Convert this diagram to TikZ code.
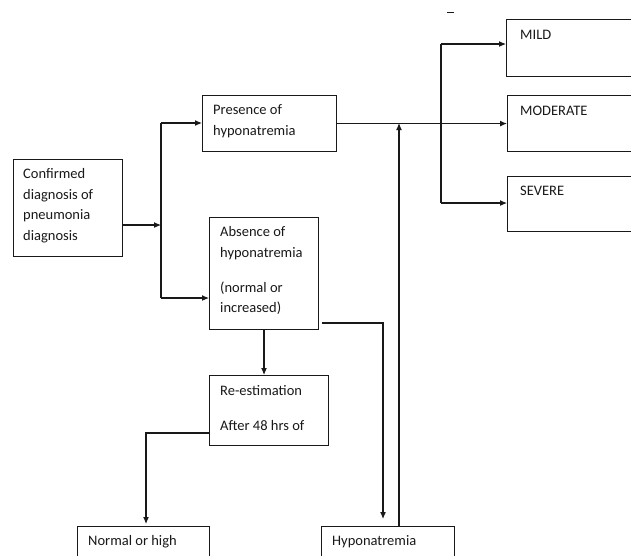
\documentclass[tikz,border=0pt]{standalone}
\usepackage{fontspec}
\setmainfont{Carlito}
\usetikzlibrary{arrows.meta}
\tikzset{
  box/.style={draw=black!90, line width=1.1pt, inner sep=0pt, anchor=north west},
  txt/.style={inner sep=0pt, anchor=north west, align=left, text=black!90,
    font=\fontsize{14.5}{20.5}\selectfont},
  conn/.style={draw=black!90, line width=1.1pt},
  arr/.style={conn, -{Latex[length=7pt,width=6pt]}},
}
\newcommand{\gapline}{\\[14.5pt]}
\begin{document}
\begin{tikzpicture}[x=1pt,y=1pt]
\useasboundingbox (0,0) rectangle (631,-555);
\clip (0,0) rectangle (631,-555);
\fill[white] (0,0) rectangle (631,-555);

% boxes
\node[box, minimum width=109pt, minimum height=97pt] (conf) at (13,-159) {};
\node[box, minimum width=134pt, minimum height=56pt] (pres) at (202,-95) {};
\node[box, minimum width=109pt, minimum height=112pt] (abs) at (209,-217) {};
\node[box, minimum width=119pt, minimum height=70pt] (re) at (209,-375) {};
\node[box, minimum width=132pt, minimum height=60pt] (normal) at (77,-526) {};
\node[box, minimum width=133pt, minimum height=60pt] (hypo) at (321,-526) {};
\node[box, minimum width=140pt, minimum height=57pt] (mild) at (506,-19) {};
\node[box, minimum width=140pt, minimum height=56pt] (moderate) at (507,-95) {};
\node[box, minimum width=140pt, minimum height=55pt] (severe) at (507,-176) {};

% texts
\node[txt] (tconf) at (23,-164) {\strut Confirmed\\diagnosis of\\pneumonia\\diagnosis};
\node[txt] (tpres) at (213,-100) {\strut Presence of\\hyponatremia};
\node[txt] (tabs) at (220,-222) {\strut Absence of\\hyponatremia\gapline(normal or\\increased)};
\node[txt] (tre) at (220,-381) {\strut Re-estimation\gapline After 48 hrs of};
\node[txt] (tnormal) at (88,-531) {\strut Normal or high};
\node[txt] (thypo) at (332,-531) {\strut Hyponatremia};
\node[txt] (tmild) at (520,-25) {\strut MILD};
\node[txt] (tmod) at (520,-101) {\strut MODERATE};
\node[txt] (tsev) at (520,-181) {\strut SEVERE};

% small mark at top
\draw[conn, line width=1pt] (447,-12) -- (454,-12);

% coordinates
\coordinate (j1) at (161,-225);
\coordinate (tt) at (161,-123);
\coordinate (tb) at (161,-298);
\coordinate (bt) at (441,-44);
\coordinate (bb) at (441,-203);
\coordinate (up) at (399,-123);
\coordinate (hv) at (383,-323);
\coordinate (rv) at (146,-433);

% connectors
\draw[arr] (conf.east |- j1) -- (j1);
\draw[conn] (tt) -- (tb);
\draw[arr] (tt) -- (pres.west |- tt);
\draw[arr] (tb) -- (abs.west |- tb);
\draw[arr] (pres.east) -- (moderate.west);
\draw[conn] (bt) -- (bb);
\draw[arr] (bt) -- (mild.west |- bt);
\draw[arr] (bb) -- (severe.west |- bb);
\draw[arr] (hypo.north -| up) -- (up);
\draw[arr, shorten >=7pt] ([xshift=3pt]abs.east |- hv) -- (hv) -- (hypo.north -| hv);
\draw[arr] (abs.south -| 264,0) -- (re.north -| 264,0);
\draw[arr, shorten >=2pt] (re.west |- rv) -- (rv) -- (normal.north -| rv);
\end{tikzpicture}
\end{document}
